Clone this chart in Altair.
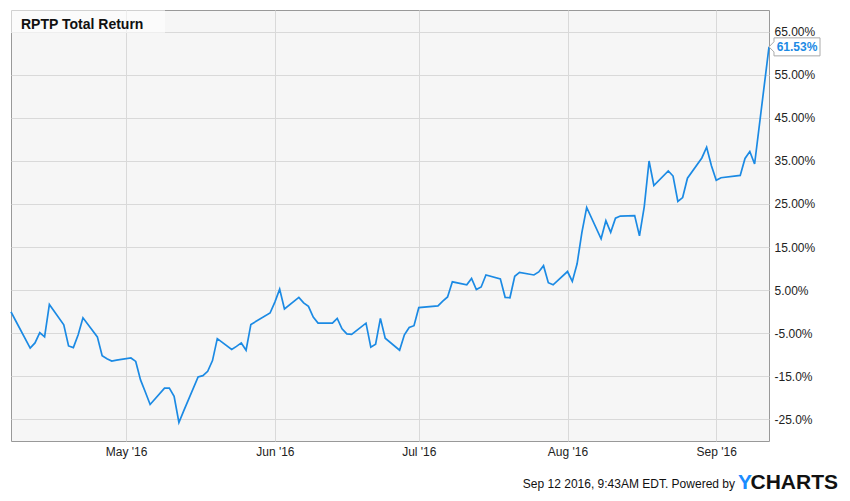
import altair as alt
import pandas as pd

# ---- data ----
dates = [
    "2016-04-07", "2016-04-08", "2016-04-11", "2016-04-12", "2016-04-13", "2016-04-14", "2016-04-15",
    "2016-04-18", "2016-04-19", "2016-04-20", "2016-04-21", "2016-04-22",
    "2016-04-25", "2016-04-26", "2016-04-27", "2016-04-28", "2016-04-29",
    "2016-05-02", "2016-05-03", "2016-05-04", "2016-05-05", "2016-05-06",
    "2016-05-09", "2016-05-10", "2016-05-11", "2016-05-12", "2016-05-13",
    "2016-05-16", "2016-05-17", "2016-05-18", "2016-05-19", "2016-05-20",
    "2016-05-23", "2016-05-24", "2016-05-25", "2016-05-26", "2016-05-27",
    "2016-05-31", "2016-06-01", "2016-06-02", "2016-06-03",
    "2016-06-06", "2016-06-07", "2016-06-08", "2016-06-09", "2016-06-10",
    "2016-06-13", "2016-06-14", "2016-06-15", "2016-06-16", "2016-06-17",
    "2016-06-20", "2016-06-21", "2016-06-22", "2016-06-23", "2016-06-24",
    "2016-06-27", "2016-06-28", "2016-06-29", "2016-06-30", "2016-07-01",
    "2016-07-05", "2016-07-06", "2016-07-07", "2016-07-08",
    "2016-07-11", "2016-07-12", "2016-07-13", "2016-07-14", "2016-07-15",
    "2016-07-18", "2016-07-19", "2016-07-20", "2016-07-21", "2016-07-22",
    "2016-07-25", "2016-07-26", "2016-07-27", "2016-07-28", "2016-07-29",
    "2016-08-01", "2016-08-02", "2016-08-03", "2016-08-04", "2016-08-05",
    "2016-08-08", "2016-08-09", "2016-08-10", "2016-08-11", "2016-08-12",
    "2016-08-15", "2016-08-16", "2016-08-17", "2016-08-18", "2016-08-19",
    "2016-08-22", "2016-08-23", "2016-08-24", "2016-08-25", "2016-08-26",
    "2016-08-29", "2016-08-30", "2016-08-31", "2016-09-01", "2016-09-02",
    "2016-09-06", "2016-09-07", "2016-09-08", "2016-09-09", "2016-09-12",
]
returns = [
    -0.1, -2.2, -8.5, -7.3, -4.9, -5.9, 1.65,
    -3.1, -8.0, -8.4, -5.4, -1.45,
    -5.9, -10.3, -11.0, -11.5, -11.3,
    -10.8, -11.6, -15.9, -18.7, -21.6,
    -17.8, -17.8, -19.7, -25.8, -23.1,
    -15.2, -14.9, -13.9, -11.4, -6.3,
    -8.8, -8.1, -7.3, -9.0, -3.0,
    -0.35, 2.2, 5.2, 0.6,
    3.3, 2.0, 1.2, -1.3, -2.7,
    -2.7, -1.6, -4.0, -5.2, -5.3,
    -2.7, -8.3, -7.6, -1.6, -6.2,
    -9.0, -5.4, -3.7, -3.3, 0.9,
    1.3, 2.4, 3.4, 6.9,
    6.2, 7.7, 5.1, 5.7, 8.5,
    7.6, 3.3, 3.2, 8.2, 9.1,
    8.5, 9.2, 10.65, 6.7, 6.2,
    9.3, 7.0, 11.1, 18.4, 24.2,
    16.9, 21.1, 18.4, 21.7, 22.2,
    22.3, 17.6, 24.4, 35.0, 29.3,
    32.7, 31.5, 25.6, 26.5, 31.0,
    35.7, 38.2, 33.9, 30.5, 31.1,
    31.65, 35.6, 37.2, 34.3, 61.53,
]
y_ticks = [65, 55, 45, 35, 25, 15, 5, -5, -15, -25]
y_labels = ["65.00%", "55.00%", "45.00%", "35.00%", "25.00%", "15.00%", "5.00%", "-5.00%", "-15.0%", "-25.0%"]
month_ticks = [(2016, 5), (2016, 6), (2016, 7), (2016, 8), (2016, 9)]
x_start = (2016, 4, 7)
x_end = (2016, 9, 12)
y_domain = [-30.1, 70.1]
title_text = "RPTP Total Return"
footer_text = "Sep 12 2016, 9:43AM EDT.  Powered by"
logo_y = "Y"
logo_rest = "CHARTS"

# ---- styling ----
W, H = 758, 431
BLUE = "#1b8ae4"
FONT = "Liberation Sans"

df = pd.DataFrame({"date": [d + "T00:00:00" for d in dates], "ret": returns})
last = pd.DataFrame({"date": [dates[-1] + "T00:00:00"], "ret": [returns[-1]],
                     "lbl": [f"{returns[-1]:.2f}%"]})
one = pd.DataFrame({"k": [0]})

label_expr = " : ".join(
    f"datum.value == {v} ? '{l}'" for v, l in zip(y_ticks, y_labels)
) + " : ''"

yscale = alt.Scale(domain=y_domain, nice=False, zero=False)

x_enc = alt.X(
    "date:T",
    title=None,
    scale=alt.Scale(domain=[alt.DateTime(year=x_start[0], month=x_start[1], date=x_start[2]),
                            alt.DateTime(year=x_end[0], month=x_end[1], date=x_end[2])]),
    axis=alt.Axis(values=[alt.DateTime(year=y, month=m, date=1) for y, m in month_ticks],
                  format="%b '%y", labelPadding=5),
)
y_enc = alt.Y(
    "ret:Q",
    title=None,
    scale=yscale,
    axis=alt.Axis(orient="right", values=y_ticks, labelExpr=label_expr, labelPadding=5),
)

line = alt.Chart(df).mark_line(color=BLUE, strokeWidth=1.7).encode(x=x_enc, y=y_enc)

box_path = "M-1,0L-0.804,-0.2L-0.804,-0.353L1,-0.353L1,0.353L-0.804,0.353L-0.804,0.2Z"
tag_box = alt.Chart(last).mark_point(
    shape=box_path, size=2601, filled=True, fill="white", stroke="#aaaaaa",
    strokeWidth=1, opacity=1,
).encode(x=alt.value(783.5), y=alt.Y("ret:Q", scale=yscale))
tag_text = alt.Chart(last).mark_text(
    font=FONT, fontSize=12, fontWeight="bold", color=BLUE, align="center", baseline="middle",
).encode(x=alt.value(786), y=alt.Y("ret:Q", scale=yscale), text="lbl:N")

title_box = alt.Chart(one).mark_rect(fill="white", opacity=0.55).encode(
    x=alt.value(0), x2=alt.value(154), y=alt.value(0), y2=alt.value(23))
title = alt.Chart(one).mark_text(
    font=FONT, fontSize=14, fontWeight="bold", color="#111", align="left", baseline="alphabetic",
).encode(x=alt.value(10), y=alt.value(18.5), text=alt.value(title_text))

footer = alt.Chart(one).mark_text(
    font=FONT, fontSize=12, color="#111", align="right", baseline="alphabetic",
).encode(x=alt.value(724), y=alt.value(478), text=alt.value(footer_text))
logo1 = alt.Chart(one).mark_text(
    font=FONT, fontSize=21, fontWeight="bold", color="#1a8cff", align="left", baseline="alphabetic",
).encode(x=alt.value(727), y=alt.value(479), text=alt.value(logo_y))
logo2 = alt.Chart(one).mark_text(
    font=FONT, fontSize=21, fontWeight="bold", color="#111", align="right", baseline="alphabetic",
).encode(x=alt.value(827), y=alt.value(479), text=alt.value(logo_rest))

chart = alt.layer(line, title_box, title, tag_box, tag_text, footer, logo1, logo2).properties(
    width=W, height=H,
    autosize=alt.AutoSizeParams(type="none"),
    padding={"left": 3, "top": 2, "right": 72, "bottom": 52},
    background="white",
).configure_view(
    fill="#f6f6f6", stroke="#999999", strokeWidth=1,
).configure_axis(
    grid=True, gridColor="#d9d9d9", gridWidth=1, ticks=False, domain=False,
    labelFont=FONT, labelFontSize=12, labelColor="#222222",
)

chart.save("out.html", embed_options={"renderer": "svg", "actions": False})
